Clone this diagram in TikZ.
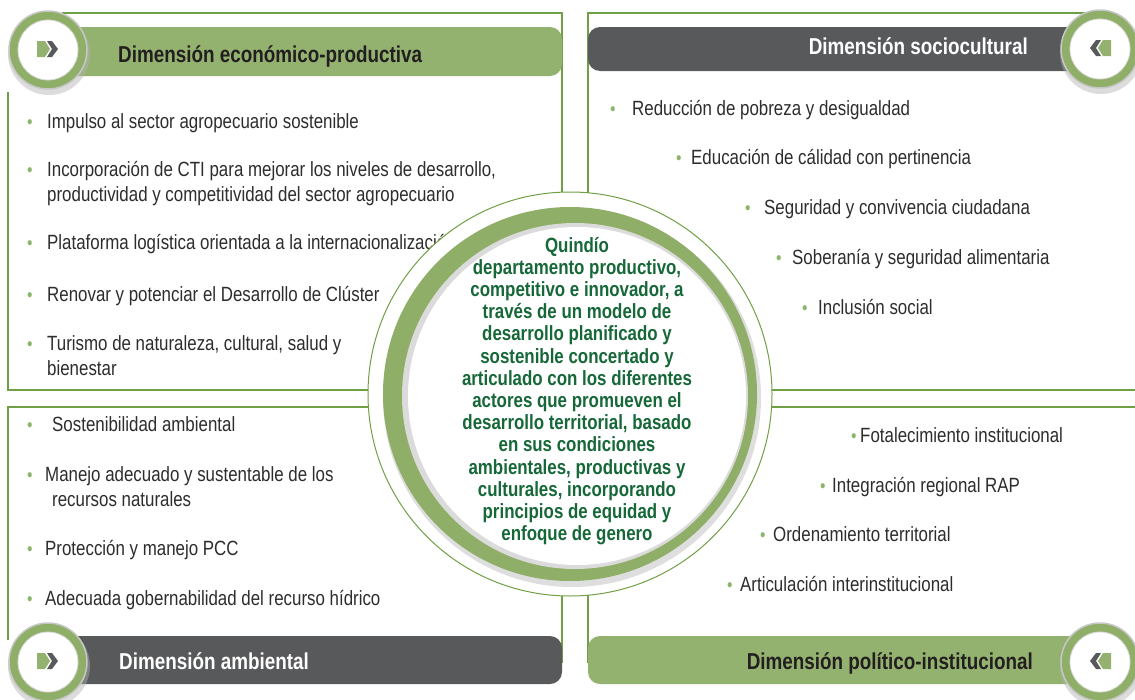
\documentclass[tikz,border=0pt]{standalone}
\usepackage{fontspec}
\setmainfont{Liberation Sans}[FakeStretch=0.82]
\definecolor{linegreen}{RGB}{112,160,70}
\definecolor{bargreen}{RGB}{148,178,111}
\definecolor{ringgreen}{RGB}{143,174,104}
\definecolor{bargray}{RGB}{88,89,91}
\definecolor{textdark}{RGB}{45,45,45}
\definecolor{headdark}{RGB}{35,31,32}
\definecolor{bulletgreen}{RGB}{141,182,106}
\definecolor{centergreen}{RGB}{22,104,56}
\newcommand\bul[1]{\makebox[#1pt][l]{\textcolor{bulletgreen}{\fontsize{19}{19}\selectfont\textbullet}}}
\tikzset{
  itemtext/.style={anchor=base west, inner sep=0pt, text=textdark, font=\fontsize{20.6}{25}\selectfont},
  headtext/.style={inner sep=0pt, font=\bfseries\fontsize{23}{27}\selectfont},
  boxline/.style={draw=linegreen, line width=1.3pt},
  ring/.style={fill=ringgreen, draw=black!22, line width=1.5pt},
  hole/.style={fill=white, draw=black!15, line width=0.8pt},
  shade/.style={fill=black!30, opacity=0.45},
}
\newcommand\iconright{%
  \fill[bargreen] (-11,-8) -- (-3,-8) -- (2,0) -- (-3,8) -- (-11,8) -- cycle;
  \fill[bargray] (-1,-8) -- (4,-8) -- (10,0) -- (4,8) -- (-1,8) -- (4,0) -- cycle;}
\newcommand\iconleft{%
  \fill[bargreen] (11,-8) -- (3,-8) -- (-2,0) -- (3,8) -- (11,8) -- cycle;
  \fill[bargray] (1,-8) -- (-4,-8) -- (-10,0) -- (-4,8) -- (1,8) -- (-4,0) -- cycle;}
\begin{document}
\begin{tikzpicture}[x=1pt,y=-1pt]
\useasboundingbox (0,0) rectangle (1135,699);
\fill[white] (0,0) rectangle (1135,699);
% box borders
\draw[boxline] (62,13) -- (562,13) -- (562,390) -- (8,390) -- (8,92);
\draw[boxline] (1090,13) -- (588,13) -- (588,390) -- (1135,390);
\draw[boxline] (8,640) -- (8,407) -- (562,407) -- (562,663);
\draw[boxline] (588,663) -- (588,407) -- (1135,407);
% header bars
\fill[bargreen, rounded corners=12pt] (40,27) rectangle (562,76);
\fill[bargray, rounded corners=12pt] (588,27) rectangle (1110,71);
\fill[bargray, rounded corners=12pt] (40,636) rectangle (562,684);
\fill[bargreen, rounded corners=12pt] (588,636) rectangle (1110,684);
% corner circles
\foreach \cx/\cy in {48/50, 1100/49, 48/662, 1100/662}{
  \fill[shade] (\cx+1,\cy+4) circle (41);
  \path[ring] (\cx,\cy) circle (39);
  \path[hole] (\cx,\cy) circle (30);
}
\begin{scope}[shift={(48,49)}]\iconright\end{scope}
\begin{scope}[shift={(48,661)}]\iconright\end{scope}
\begin{scope}[shift={(1100,48)}]\iconleft\end{scope}
\begin{scope}[shift={(1100,661)}]\iconleft\end{scope}
% header texts
\node[headtext, anchor=base west, text=headdark] (h1) at (118,62) {Dimensión económico-productiva};
\node[headtext, anchor=base east, text=white] (h2) at (1028,54) {Dimensión sociocultural};
\node[headtext, anchor=base west, text=white] (h3) at (119,669) {Dimensión ambiental};
\node[headtext, anchor=base east, text=headdark] (h4) at (1033,669) {Dimensión político-institucional};
% top-left items
\node[itemtext] (a1) at (27,128) {\bul{20}Impulso al sector agropecuario sostenible};
\node[itemtext] (a2) at (27,176) {\bul{20}\begin{tabular}[t]{@{}l@{}}Incorporación de CTI para mejorar los niveles de desarrollo,\\productividad y competitividad del sector agropecuario\end{tabular}};
\node[itemtext] (a3) at (27,249) {\bul{20}Plataforma logística orientada a la internacionalización};
\node[itemtext] (a4) at (27,301) {\bul{20}Renovar y potenciar el Desarrollo de Clúster};
\node[itemtext] (a5) at (27,350) {\bul{20}\begin{tabular}[t]{@{}l@{}}Turismo de naturaleza, cultural, salud y\\bienestar\end{tabular}};
% top-right items
\node[itemtext] (b1) at (610,115) {\bul{22}Reducción de pobreza y desigualdad};
\node[itemtext] (b2) at (676,164) {\bul{15}Educación de cálidad con pertinencia};
\node[itemtext] (b3) at (745,214) {\bul{19}Seguridad y convivencia ciudadana};
\node[itemtext] (b4) at (776,264) {\bul{16}Soberanía y seguridad alimentaria};
\node[itemtext] (b5) at (802,314) {\bul{16}Inclusión social};
% bottom-left items
\node[itemtext] (c1) at (27,431) {\bul{25}Sostenibilidad ambiental};
\node[itemtext] (c2) at (27,481) {\bul{18}\begin{tabular}[t]{@{}l@{}}Manejo adecuado y sustentable de los\\\hspace{7pt}recursos naturales\end{tabular}};
\node[itemtext] (c3) at (27,555) {\bul{18}Protección y manejo PCC};
\node[itemtext] (c4) at (27,605) {\bul{18}Adecuada gobernabilidad del recurso hídrico};
% bottom-right items
\node[itemtext] (d1) at (851,442) {\bul{9}Fotalecimiento institucional};
\node[itemtext] (d2) at (820,492) {\bul{12}Integración regional RAP};
\node[itemtext] (d3) at (760,541) {\bul{13}Ordenamiento territorial};
\node[itemtext] (d4) at (727,591) {\bul{13}Articulación interinstitucional};
% central circle
\draw[linegreen, fill=white, line width=1pt] (570,394) circle (202);
\fill[black!25, opacity=0.5] (572,398) circle (189);
\fill[ringgreen] (570,394) circle (187);
\fill[black!14] (575,396) circle (173);
\fill[white] (577,396) circle (169);
\node[inner sep=0pt, align=center, text=centergreen, font=\bfseries\fontsize{20.6}{22.2}\selectfont] (center) at (577,391) {Quindío\\departamento productivo,\\competitivo e innovador, a\\través de un modelo de\\desarrollo planificado y\\sostenible concertado y\\articulado con los diferentes\\actores que promueven el\\desarrollo territorial, basado\\en sus condiciones\\ambientales, productivas y\\culturales, incorporando\\principios de equidad y\\enfoque de genero};
\end{tikzpicture}
\end{document}
